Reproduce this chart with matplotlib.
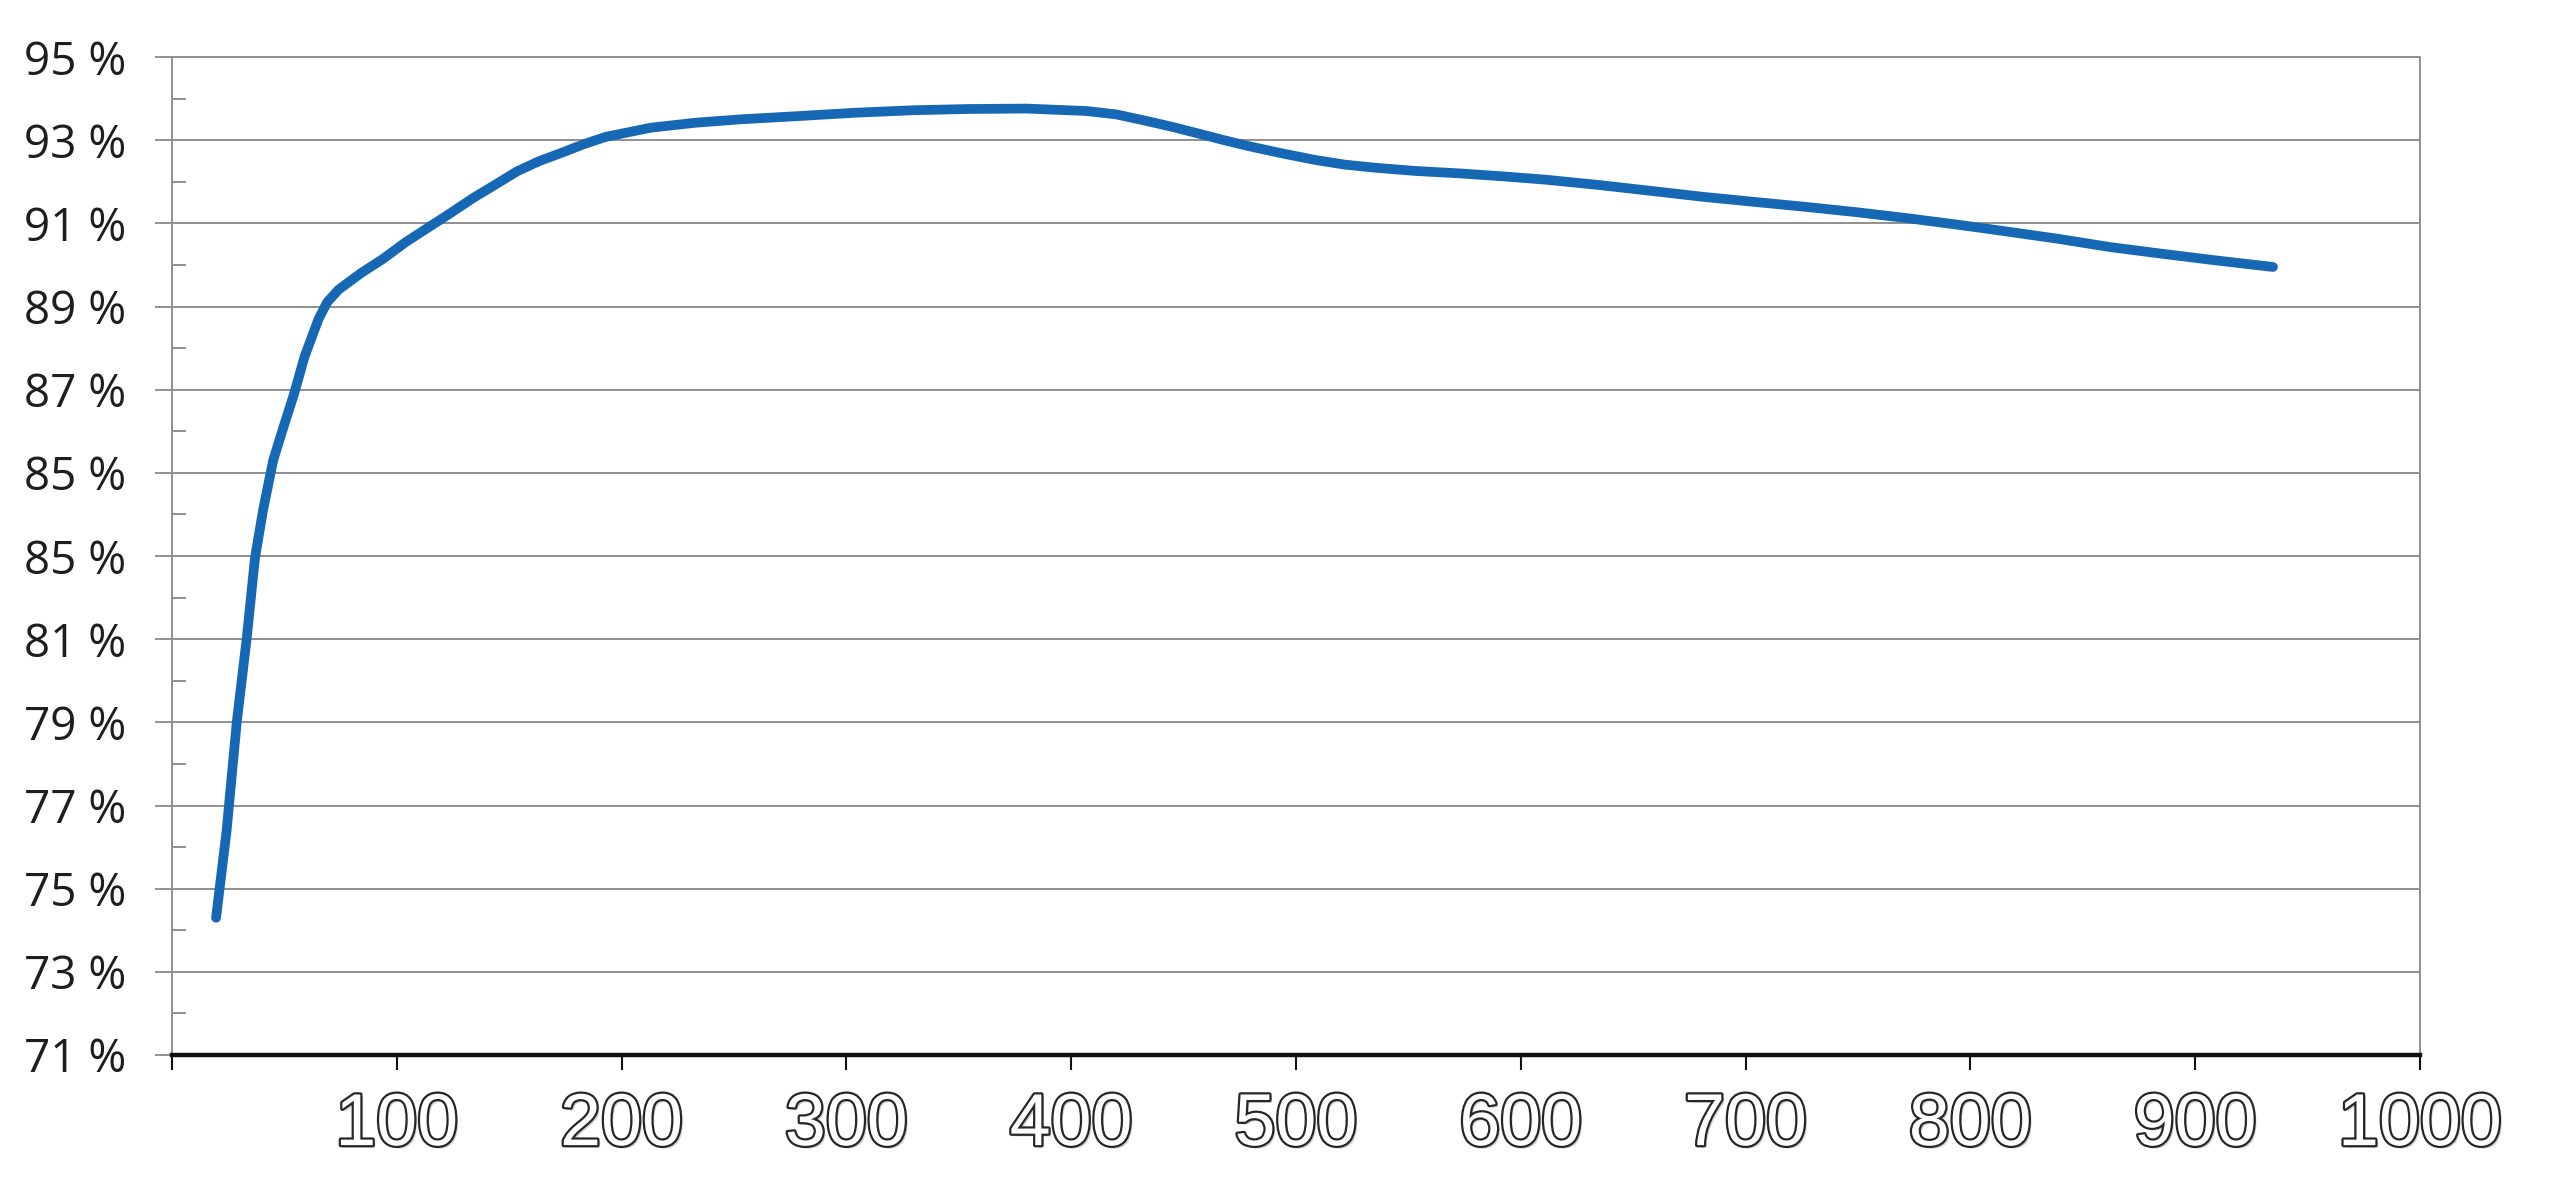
import matplotlib
matplotlib.use('Agg')
import matplotlib.pyplot as plt
import matplotlib.patheffects as pe

# curve
x_vals = [19.6, 24.3, 28.8, 33.2, 36.9, 40.5, 45, 49, 54.3, 59, 65.2, 69, 74,
          84, 94, 104, 114, 124, 133.7, 143.5, 153.5, 163.5, 173.5, 183, 193,
          213, 233, 252.7, 279, 304, 330, 355, 380, 407, 420, 432, 445, 458,
          468, 478.6, 494, 509, 522, 534.7, 553, 573, 592, 611, 635, 658,
          680.6, 703, 726, 749, 771, 794, 816.7, 840, 862, 885, 907.5, 934.6]
y_vals = [74.3, 76.4, 79.0, 81.0, 82.95, 84.1, 85.3, 86.0, 86.9, 87.8, 88.7, 89.1, 89.4,
          89.8, 90.15, 90.55, 90.9, 91.25, 91.6, 91.92, 92.25, 92.5, 92.7, 92.9, 93.08,
          93.3, 93.42, 93.5, 93.58, 93.66, 93.72, 93.75, 93.76, 93.7, 93.62, 93.48, 93.32, 93.14,
          93.0, 92.86, 92.68, 92.52, 92.41, 92.34, 92.26, 92.2, 92.13, 92.05, 91.92, 91.78,
          91.64, 91.52, 91.4, 91.27, 91.13, 90.97, 90.8, 90.62, 90.43, 90.27, 90.12, 89.95]

y_ticks = [71, 73, 75, 77, 79, 81, 83, 85, 87, 89, 91, 93, 95]
y_labels = ["71 %", "73 %", "75 %", "77 %", "79 %", "81 %", "85 %",
            "85 %", "87 %", "89 %", "91 %", "93 %", "95 %"]
y_minor = [72, 74, 76, 78, 80, 82, 84, 86, 88, 90, 92, 94]
x_ticks = [0, 100, 200, 300, 400, 500, 600, 700, 800, 900, 1000]
x_labels = ["", "100", "200", "300", "400", "500", "600", "700", "800", "900", "1000"]

GRID = "#8f8f8f"
LINE = "#1668b4"

fig = plt.figure(figsize=(25.6, 12.02), dpi=100)
ax = fig.add_axes([172 / 2560, 1 - 1055 / 1202, (2420 - 172) / 2560, (1055 - 57) / 1202])

ax.plot(x_vals, y_vals, color=LINE, lw=7, solid_capstyle="round", solid_joinstyle="round", zorder=3)

ax.set_xlim(0, 1000)
ax.set_ylim(71, 95)

# y axis: labelled ticks stick out, the in-between ones point inward
ax.set_yticks(y_ticks)
ax.set_yticklabels(y_labels, fontfamily="Open Sans", fontsize=33, color="#1e1e1e")
ax.set_yticks(y_minor, minor=True)
ax.tick_params(axis="y", which="major", direction="out", length=12, width=1.4,
               color=GRID, pad=21)
ax.tick_params(axis="y", which="minor", direction="in", length=10, width=1.4, color=GRID)
ax.grid(axis="y", which="major", color=GRID, lw=1.4)

# x axis: hollow outlined numbers
ax.set_xticks(x_ticks)
ax.set_xticklabels(x_labels, fontfamily="Liberation Sans", fontsize=53, color="white")
ax.tick_params(axis="x", direction="out", length=11, width=1.5, color="#111", pad=15)
outline = [pe.SimplePatchShadow(offset=(2, -2), alpha=0.25),
           pe.Stroke(linewidth=3.2, foreground="#262626"), pe.Normal()]
for lbl in ax.get_xticklabels():
    lbl.set_path_effects(outline)

for side in ("left", "right", "top"):
    ax.spines[side].set_color(GRID)
    ax.spines[side].set_linewidth(1.4)
ax.spines["bottom"].set_color("#111")
ax.spines["bottom"].set_linewidth(3.2)
ax.spines["bottom"].set_zorder(4)

fig.savefig("out.png", dpi=100, facecolor="white")
